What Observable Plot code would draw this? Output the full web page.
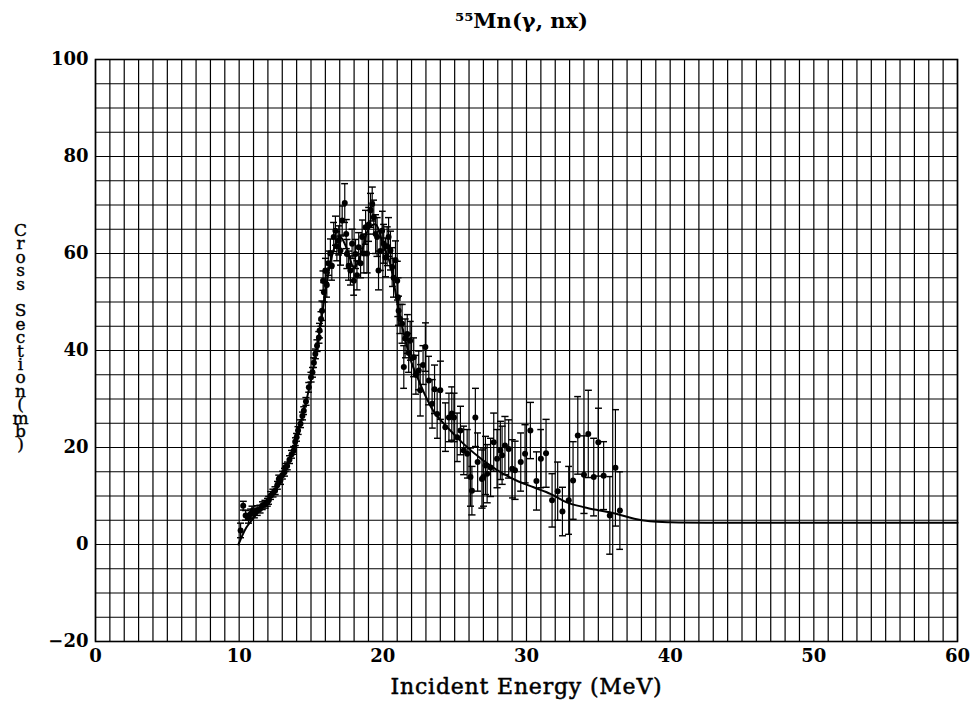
<!DOCTYPE html>
<html>
<head>
<meta charset="utf-8">
<script src="https://cdn.jsdelivr.net/npm/d3@7"></script>
<script src="https://cdn.jsdelivr.net/npm/@observablehq/plot@0.6"></script>
<style>
  html, body { margin: 0; padding: 0; background: #fff; }
  #chart svg { display: block; }
</style>
</head>
<body>
<div id="chart"></div>
<script>
// ---- Data ----
const titleText = "⁵⁵Mn(γ, nx)";
const xLabel = "Incident Energy (MeV)";
const yLabel = "Cross Section(mb)";
const xTicks = [0, 10, 20, 30, 40, 50, 60];
const yTicks = [-20, 0, 20, 40, 60, 80, 100];
const xGrid = d3.range(0, 61, 1);
const yGrid = d3.range(-20, 101, 5);

// measured points: energy (MeV), cross section (mb), error (mb)
const energy = [
  10.1, 10.28, 10.45, 10.65, 10.8, 10.9, 11.05, 11.25, 11.45, 11.6, 11.8, 11.95,
  12.06, 12.2, 12.35, 12.5, 12.65, 12.76, 12.87, 13.0, 13.15, 13.2, 13.34, 13.5,
  13.65, 13.8, 13.9, 14.0, 14.1, 14.27, 14.4, 14.5, 14.65, 14.85, 15.0, 15.1,
  15.2, 15.3, 15.42, 15.55, 15.6, 15.7, 15.77, 15.84, 15.9, 16.0, 16.1, 16.2,
  16.35, 16.45, 16.58, 16.7, 16.8, 16.93, 17.05, 17.17, 17.35, 17.45, 17.5, 17.62,
  17.74, 17.86, 17.98, 18.1, 18.2, 18.32, 18.45, 18.56, 18.68, 18.8, 18.9, 19.02,
  19.14, 19.26, 19.37, 19.5, 19.6, 19.7, 19.82, 19.95, 20.06, 20.18, 20.3, 20.4,
  20.53, 20.65, 20.75, 20.88, 21.0, 21.05, 21.1, 21.2, 21.34, 21.46, 21.55, 21.7,
  21.8, 21.9, 22.15, 22.3, 22.5, 22.6, 22.8, 22.96, 23.2, 23.43, 23.6, 23.78,
  24.0, 24.35, 24.6, 24.8, 24.95, 25.17, 25.4, 25.63, 25.87, 26.1, 26.2, 26.44,
  26.6, 26.9, 27.0, 27.14, 27.26, 27.5, 27.72, 27.95, 28.18, 28.3, 28.5, 28.76,
  29.0, 29.2, 29.6, 29.9, 30.27, 30.69, 31.0, 31.36, 31.78, 32.17, 32.5, 32.94,
  33.24, 33.57, 34.0, 34.3, 34.68, 35.0, 35.37, 35.8, 36.19, 36.5
];
const sigma = [
  2.9, 8.0, 6.0, 5.4, 6.3, 6.9, 6.5, 7.0, 7.3, 8.0, 8.3, 8.7,
  9.1, 10.1, 10.6, 11.1, 12.2, 13.5, 13.2, 14.3, 14.9, 15.9, 16.2, 17.5,
  18.6, 19.4, 21.2, 22.1, 23.5, 24.9, 26.5, 27.6, 29.5, 32.4, 34.5, 35.5,
  37.5, 39.3, 41.0, 42.7, 44.1, 46.5, 48.2, 54.4, 52.0, 56.5, 53.5, 58.0,
  60.0, 57.5, 63.4, 64.7, 61.5, 62.7, 60.6, 66.8, 70.4, 64.0, 59.9, 57.5,
  56.5, 62.0, 54.4, 59.9, 55.5, 61.3, 58.0, 63.4, 60.0, 65.4, 60.0, 66.0,
  68.9, 70.2, 67.5, 64.0, 63.4, 56.5, 60.5, 64.7, 62.0, 59.2, 61.5, 63.4,
  60.6, 57.2, 55.0, 58.6, 54.4, 51.0, 48.2, 46.5, 45.5, 36.6, 42.5, 43.4,
  39.5, 42.0, 38.6, 35.0, 35.9, 31.8, 37.0, 40.7, 33.8, 29.0, 32.0, 26.9,
  31.8, 24.2, 26.2, 27.0, 26.2, 22.1, 23.5, 19.4, 18.7, 13.9, 11.1, 26.2,
  17.0, 13.5, 13.9, 16.3, 14.6, 15.9, 21.1, 17.7, 19.4, 18.4, 20.4, 19.7,
  15.6, 15.3, 17.0, 18.7, 23.5, 13.1, 17.7, 18.8, 9.1, 11.0, 6.8, 9.1,
  13.2, 22.5, 14.4, 22.8, 13.9, 21.1, 14.2, 6.0, 15.8, 7.0
];
const err = [
  1.5, 0.9, 1.0, 1.0, 1.0, 1.0, 1.0, 1.0, 0.8, 0.8, 0.8, 0.8,
  0.8, 0.8, 0.8, 0.8, 0.8, 0.8, 0.8, 0.8, 0.8, 0.8, 0.8, 0.8,
  0.8, 0.8, 0.8, 0.8, 0.8, 0.8, 0.8, 0.8, 0.8, 1.0, 1.0, 1.0,
  1.0, 1.0, 1.2, 1.2, 1.5, 1.5, 2.0, 2.0, 2.0, 2.5, 2.5, 2.5,
  3.0, 3.0, 3.0, 3.0, 3.0, 3.0, 3.0, 3.0, 4.0, 3.0, 3.0, 3.0,
  3.0, 3.0, 3.0, 3.0, 3.0, 3.0, 3.0, 3.5, 4.0, 3.5, 4.0, 3.5,
  3.5, 3.5, 3.5, 4.0, 4.0, 4.0, 4.0, 4.0, 4.0, 4.0, 4.0, 4.0,
  4.0, 4.0, 4.0, 4.0, 4.0, 4.0, 3.0, 3.0, 4.0, 4.4, 4.0, 4.0,
  4.0, 4.0, 4.0, 4.0, 4.0, 5.3, 4.0, 5.0, 5.0, 5.0, 5.0, 5.0,
  6.0, 5.0, 5.0, 5.5, 5.0, 5.0, 5.0, 5.0, 5.0, 6.0, 5.0, 6.0,
  6.0, 6.0, 6.0, 6.0, 6.0, 6.0, 6.0, 6.0, 6.0, 6.0, 6.0, 6.0,
  6.0, 6.0, 6.0, 6.0, 5.8, 6.0, 6.0, 7.0, 5.5, 6.0, 5.0, 7.0,
  8.0, 8.0, 8.0, 9.0, 8.0, 7.0, 7.0, 8.0, 12.0, 8.0
];

// fitted curve
const curveE = [9.95, 10.5, 11, 11.5, 12, 12.5, 13, 13.5, 14, 14.5, 15, 15.5, 16, 16.5,
  17, 17.5, 18, 18.5, 19, 19.5, 20, 20.5, 21, 21.5, 22, 22.4, 23.5, 24.7, 25.6, 27.0,
  28.2, 29.3, 30.5, 31.7, 32.8, 34.0, 35.1, 36.3, 37.5, 38.6, 40, 45, 50, 55, 60];
const curveS = [0, 3.5, 5.5, 7.2, 8.8, 11, 14, 17.5, 22, 27.5, 34, 42, 52, 60,
  63.5, 61, 57, 60, 65, 66, 62, 58, 50, 43, 37.5, 34.5, 27.6, 23.5, 20.8, 17.3,
  14.9, 13.2, 11.8, 10.4, 8.7, 7.7, 7.0, 6.3, 5.3, 4.8, 4.6, 4.5, 4.5, 4.5, 4.5];

// ---- Tables built from the arrays ----
const points = energy.map((e, i) => ({e, s: sigma[i], lo: sigma[i] - err[i], hi: sigma[i] + err[i]}));
const curve = curveE.map((e, i) => ({e, s: curveS[i]}));

const FONT = "'DejaVu Serif', 'Liberation Serif', serif";

const chart = Plot.plot({
  width: 978,
  height: 701,
  marginLeft: 95,
  marginRight: 21,
  marginTop: 59,
  marginBottom: 60,
  style: {fontFamily: FONT, fontSize: "18px", color: "#000", background: "#fff"},
  x: {domain: [0, 60]},
  y: {domain: [-20, 100]},
  marks: [
    Plot.gridX(xGrid, {stroke: "#000", strokeOpacity: 1, strokeWidth: 1.2}),
    Plot.gridY(yGrid, {stroke: "#000", strokeOpacity: 1, strokeWidth: 1.2}),
    Plot.frame({stroke: "#000", strokeWidth: 1.6}),
    Plot.axisX(xTicks, {tickSize: 0, tickPadding: 8, label: null, fontSize: 18, fontWeight: "bold",
      fontFamily: FONT, fill: "#000"}),
    Plot.axisY(yTicks, {tickSize: 0, tickPadding: 7, label: null, fontSize: 18, fontWeight: "bold",
      fontFamily: FONT, fill: "#000"}),
    Plot.line(curve, {x: "e", y: "s", curve: "catmull-rom", stroke: "#000", strokeWidth: 2}),
    Plot.link(points, {x1: "e", x2: "e", y1: "lo", y2: "hi", stroke: "#000", strokeWidth: 1.2,
      markerStart: "tick", markerEnd: "tick"}),
    Plot.dot(points, {x: "e", y: "s", r: 3, fill: "#000", stroke: "none"}),
    Plot.text([titleText], {frameAnchor: "top", dy: -38, dx: -5, fontSize: 21, fontWeight: "bold",
      fill: "#000", textAnchor: "middle", lineAnchor: "middle", letterSpacing: 1}),
    Plot.text([xLabel], {frameAnchor: "bottom", dy: 45, fontSize: 22, fill: "#000",
      stroke: "#000", strokeWidth: 0.5,
      textAnchor: "middle", lineAnchor: "middle"}),
    Plot.text([yLabel], {frameAnchor: "left", dx: -75, dy: -22, fontSize: 17, fill: "#000",
      stroke: "#000", strokeWidth: 0.4,
      textAnchor: "middle", lineAnchor: "middle"})
  ]
});

document.getElementById("chart").appendChild(chart);

// Stack the y-axis label letters vertically (upright), as in the original.
d3.select(chart).selectAll("text").filter(function () { return this.textContent === yLabel; })
  .style("writing-mode", "vertical-lr")
  .style("text-orientation", "upright")
  .style("letter-spacing", "-6.6px")
  .attr("dy", null);
d3.select(chart).selectAll("text").filter(function () { return this.textContent === xLabel; })
  .style("letter-spacing", "0.8px");
</script>
</body>
</html>
